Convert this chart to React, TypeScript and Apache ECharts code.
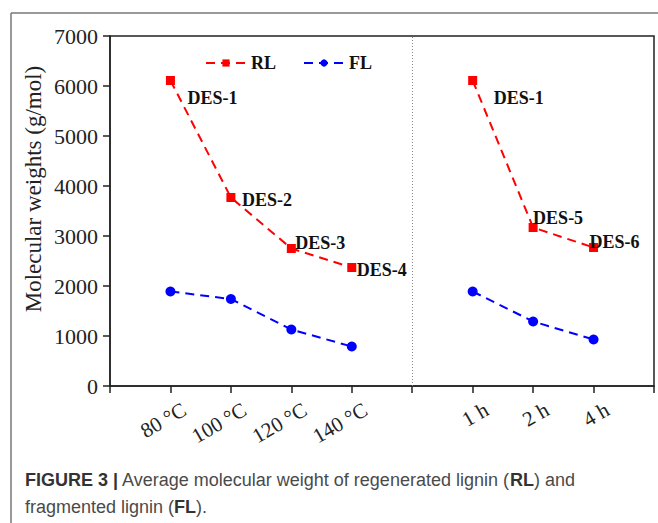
import React, { useEffect, useRef } from "react";
import * as echarts from "echarts";

// x positions on the value axis (1..4 temperature, 6..8 time; 5 is the divider)
const xLabels = ["", "80 °C", "100 °C", "120 °C", "140 °C", "", "1 h", "2 h", "4 h", ""];
const xPositions = [1, 2, 3, 4, 5, 6, 7, 8];
const rlValues: (number | null)[] = [6110, 3770, 2750, 2370, null, 6110, 3170, 2770];
const flValues: (number | null)[] = [1890, 1740, 1130, 790, null, 1890, 1290, 930];
const rlPointLabels: (string | null)[] = ["DES-1", "DES-2", "DES-3", "DES-4", null, "DES-1", "DES-5", "DES-6"];
const yTicks = [0, 1000, 2000, 3000, 4000, 5000, 6000, 7000];
const dividerX = 5;

// label offsets (style only)
const rlLabelOffsets: number[][] = [
  [12.5, 17],
  [6.5, 2],
  [-0.5, -6],
  [0.5, 2],
  [0, 0],
  [16.5, 17],
  [-4.5, -10],
  [-8.5, -6],
];

const SERIF = "'Liberation Serif', 'Times New Roman', serif";
const SANS = "'Liberation Sans', Arial, sans-serif";

export default function App() {
  const ref = useRef<HTMLDivElement>(null);
  useEffect(() => {
    if (!ref.current) return;
    const chart = echarts.init(ref.current, undefined, { renderer: "svg" });

    const rlData = xPositions.map((x, i) => {
      const v = rlValues[i];
      if (v === null) return [x, "-"];
      const lbl = rlPointLabels[i];
      return {
        value: [x, v],
        label: lbl
          ? {
              show: true,
              formatter: lbl,
              position: "right",
              distance: 0,
              offset: rlLabelOffsets[i],
              fontFamily: SERIF,
              fontWeight: "bold",
              fontSize: 18,
              color: "#111",
            }
          : { show: false },
      };
    });
    const flData = xPositions.map((x, i) => {
      const v = flValues[i];
      return v === null ? [x, "-"] : [x, v];
    });

    chart.setOption({
      animation: false,
      backgroundColor: "#ffffff",
      grid: {
        left: 110,
        right: 4,
        top: 36,
        bottom: 137,
        show: true,
        borderColor: "#222",
        borderWidth: 1.5,
        backgroundColor: "transparent",
      },
      legend: {
        left: 200,
        top: 49,
        itemWidth: 40,
        itemHeight: 9,
        itemGap: 27,
        textStyle: { fontFamily: SERIF, fontWeight: "bold", fontSize: 18, color: "#111" },
        data: ["RL", "FL"],
      },
      xAxis: {
        type: "value",
        min: 0,
        max: 9,
        interval: 1,
        splitLine: { show: false },
        axisLine: { show: true, lineStyle: { color: "#222", width: 1.5 } },
        axisTick: { show: true, inside: false, length: 7, lineStyle: { color: "#222", width: 1.5 } },
        axisLabel: {
          rotate: 30,
          margin: 30,
          padding: [0, -16, 0, 0],
          fontFamily: SERIF,
          fontSize: 21,
          color: "#222",
          formatter: (v: number) => xLabels[Math.round(v)] ?? "",
        },
      },
      yAxis: {
        type: "value",
        min: yTicks[0],
        max: yTicks[yTicks.length - 1],
        interval: 1000,
        splitLine: { show: false },
        axisLine: { show: true, lineStyle: { color: "#222", width: 1.5 } },
        axisTick: { show: true, inside: false, length: 7, lineStyle: { color: "#222", width: 1.5 } },
        axisLabel: {
          margin: 12,
          fontFamily: SERIF,
          fontSize: 22,
          color: "#222",
          formatter: (v: number) => String(v),
        },
      },
      series: [
        {
          name: "RL",
          type: "line",
          data: rlData,
          symbol: "rect",
          symbolSize: 9,
          connectNulls: false,
          itemStyle: { color: "#ff0000" },
          lineStyle: { color: "#ff0000", width: 2, type: [9, 6] },
          z: 3,
          markLine: {
            silent: true,
            symbol: "none",
            label: { show: false },
            lineStyle: { color: "#888", type: [1, 2], width: 1 },
            data: [{ xAxis: dividerX }],
          },
        },
        {
          name: "FL",
          type: "line",
          data: flData,
          symbol: "circle",
          symbolSize: 10,
          connectNulls: false,
          itemStyle: { color: "#0000ff" },
          lineStyle: { color: "#0000ff", width: 2, type: [9, 6] },
          z: 3,
        },
      ],
      graphic: [
        {
          type: "line",
          shape: { x1: 11, y1: 13, x2: 658, y2: 13 },
          style: { stroke: "#777", lineWidth: 1.5 },
        },
        {
          type: "line",
          shape: { x1: 11, y1: 13, x2: 11, y2: 523 },
          style: { stroke: "#777", lineWidth: 1.5 },
        },
        {
          type: "text",
          x: 33,
          y: 189,
          rotation: Math.PI / 2,
          style: {
            text: "Molecular weights (g/mol)",
            fontFamily: SERIF,
            fontSize: 23,
            fill: "#222",
            align: "center",
            verticalAlign: "middle",
          },
        },
        {
          type: "text",
          x: 25,
          y: 480,
          style: {
            text: "{b|FIGURE 3 |} Average molecular weight of regenerated lignin ({b|RL}) and",
            fontFamily: SANS,
            fontSize: 18,
            fill: "#4a4a4a",
            verticalAlign: "middle",
            rich: { b: { fontFamily: SANS, fontSize: 18, fontWeight: "bold", fill: "#333" } },
          },
        },
        {
          type: "text",
          x: 25,
          y: 507,
          style: {
            text: "fragmented lignin ({b|FL}).",
            fontFamily: SANS,
            fontSize: 18,
            fill: "#4a4a4a",
            verticalAlign: "middle",
            rich: { b: { fontFamily: SANS, fontSize: 18, fontWeight: "bold", fill: "#333" } },
          },
        },
      ],
    });
    return () => chart.dispose();
  }, []);
  return (
    <div
      ref={ref}
      style={{ position: "absolute", left: 0, top: 0, width: 658, height: 523, background: "#fff" }}
    />
  );
}
